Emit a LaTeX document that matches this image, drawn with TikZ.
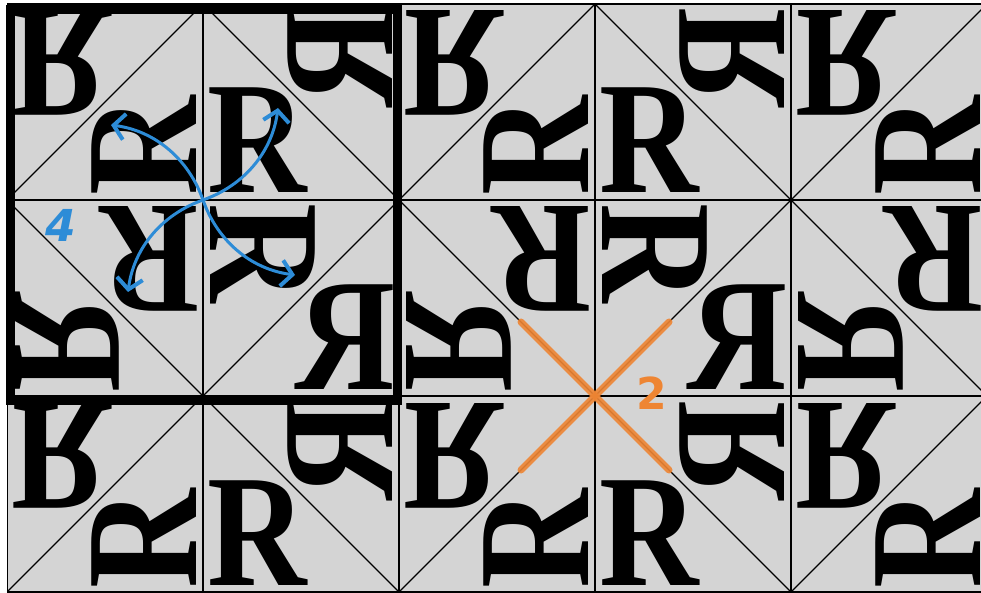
\documentclass[tikz,border=0pt]{standalone}
\usepackage{fontspec}
\usepackage{graphicx}
\newfontfamily\rfont{Liberation Serif}
\newfontfamily\lblfont{DejaVu Sans}
\usetikzlibrary{arrows.meta}
\definecolor{tilegray}{RGB}{212,212,212}
\definecolor{swirlblue}{RGB}{45,140,215}
\definecolor{xorange}{RGB}{238,133,51}
\newcommand\tileB{%
  \node[letter] at (4,7) {\scalebox{0.86}[1]{R}};
  \begin{scope}[cm={0,-1,-1,0,(196,196)}]
    \node[letter] at (4,7) {\scalebox{0.86}[1]{R}};
  \end{scope}
  \draw[gridline] (0,196) -- (196,0);
  \draw[gridline] (0,0) rectangle (196,196);
}
\begin{document}
\begin{tikzpicture}[x=1pt,y=1pt,
  letter/.style={anchor=base west, inner sep=0pt, outer sep=0pt, transform shape,
    font=\rfont\bfseries\fontsize{160}{160}\selectfont},
  gridline/.style={line width=1.2pt, black},
  swirl/.style={line width=3pt, swirlblue, line cap=round,
    -{Straight Barb[length=11pt,width=26pt,line width=4pt]}},
  thickframe/.style={line width=9pt, black},
  xline/.style={line width=7pt, xorange, opacity=0.9, line cap=round},
  lbl/.style={inner sep=0pt}]
\useasboundingbox (0,0) rectangle (981,592);
\fill[white] (0,0) rectangle (981,592);
\begin{scope}
  \clip (7,0) rectangle (981,588);
  \fill[tilegray] (7,0) rectangle (981,588);
  \foreach \i in {0,1,2}{
    \foreach \j in {0,1}{
      \begin{scope}[shift={(203+392*\i,392-392*\j)}]
        \foreach \r in {0,90,180,270}{
          \begin{scope}[rotate=\r]
            \tileB
          \end{scope}
        }
      \end{scope}
    }
  }
\end{scope}
\draw[thickframe] (10.5,582) rectangle (397.5,192);
% four-fold centre and swirl arrows
\coordinate (c0) at (203,392);
\coordinate (tB) at (278,484);
\coordinate (tA) at (111,467);
\coordinate (tC) at (128,300);
\coordinate (tD) at (295,317);
\draw[swirl] (c0) .. controls +(40,14) and +(-6,-45) .. (tB);
\draw[swirl] (c0) .. controls +(-14,40) and +(45,-6) .. (tA);
\draw[swirl] (c0) .. controls +(-40,-14) and +(6,45) .. (tC);
\draw[swirl] (c0) .. controls +(14,-40) and +(-45,6) .. (tD);
\node[lbl, text=swirlblue, font=\lblfont\bfseries\itshape\fontsize{44}{44}\selectfont] (four) at (61,367) {4};
% two-fold centre
\coordinate (x0) at (595,196);
\coordinate (xa) at (521,270);
\coordinate (xb) at (669,122);
\coordinate (xc) at (669,270);
\coordinate (xd) at (521,122);
\draw[xline] (xa) -- (xb);
\draw[xline] (xc) -- (xd);
\node[lbl, text=xorange, font=\lblfont\bfseries\fontsize{44}{44}\selectfont] (two) at (652,199) {2};
\end{tikzpicture}
\end{document}
